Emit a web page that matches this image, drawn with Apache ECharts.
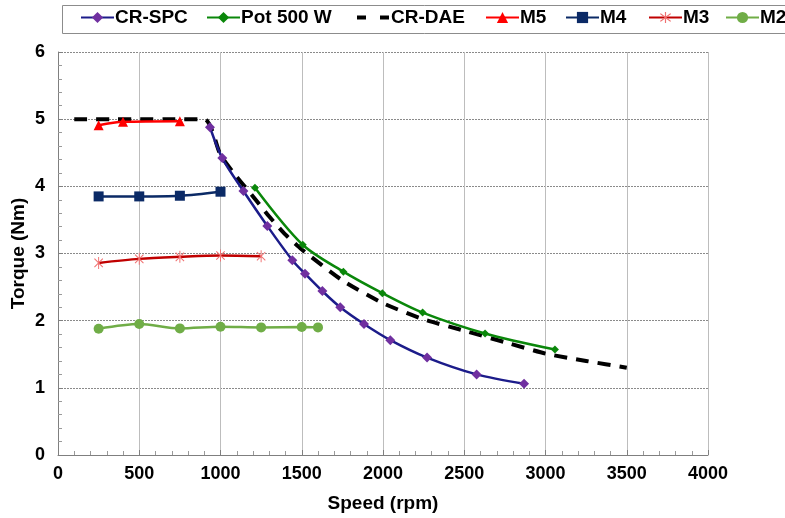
<!DOCTYPE html>
<html>
<head>
<meta charset="utf-8">
<script src="https://cdn.jsdelivr.net/npm/echarts@6/dist/echarts.min.js"></script>
<style>html,body{margin:0;padding:0;background:#fff}#c{width:785px;height:518px}</style>
</head>
<body>
<div id="c"></div>
<script>
var seriesNames = ['CR-SPC', 'Pot 500 W', 'CR-DAE', 'M5', 'M4', 'M3', 'M2'];
var xTicks = [0, 500, 1000, 1500, 2000, 2500, 3000, 3500, 4000];
var yTicks = [0, 1, 2, 3, 4, 5, 6];

var crSpcSpeed = [935, 1011, 1141, 1288, 1442, 1520, 1627, 1737, 1883, 2045, 2271, 2576, 2868];
var crSpcTorque = [4.88, 4.42, 3.93, 3.41, 2.90, 2.70, 2.44, 2.20, 1.95, 1.71, 1.45, 1.20, 1.06];

var potSpeed = [1212, 1506, 1756, 1996, 2244, 2628, 3058];
var potTorque = [3.98, 3.13, 2.73, 2.41, 2.12, 1.81, 1.57];

var crDaeSpeed = [100, 900, 1000, 1100, 1200, 1300, 1400, 1500, 1750, 2000, 2250, 2500, 2750, 3000, 3250, 3500];
var crDaeTorque = [5.0, 5.0, 4.47, 4.14, 3.85, 3.55, 3.28, 3.06, 2.60, 2.26, 2.02, 1.85, 1.68, 1.51, 1.40, 1.30];

var m5Speed = [250, 400, 750];
var m5Torque = [4.91, 4.96, 4.97];

var m4Speed = [250, 500, 750, 1000];
var m4Torque = [3.85, 3.85, 3.86, 3.92];

var m3Speed = [250, 500, 750, 1000, 1250];
var m3Torque = [2.86, 2.92, 2.95, 2.97, 2.96];

var m2Speed = [250, 500, 750, 1000, 1250, 1500, 1600];
var m2Torque = [1.88, 1.95, 1.885, 1.91, 1.90, 1.905, 1.90];

function pairs(xs, ys) { return xs.map(function (x, i) { return [x, ys[i]]; }); }

var FONT = '"Liberation Sans", Arial, sans-serif';
var asterisk = 'path://M-0.8,-10L0.8,-10L0.8,10L-0.8,10Z M-7.6,-6.4L-6.4,-7.6L7.6,6.4L6.4,7.6Z M6.4,-7.6L7.6,-6.4L-6.4,7.6L-7.6,6.4Z';

var legendLefts = [80, 206, 355, 485, 565, 648, 725];
var legends = seriesNames.map(function (n, i) {
  var l = {
    data: [n], left: legendLefts[i], top: 8, itemWidth: 33, itemHeight: 14, itemGap: 0,
    textStyle: { fontFamily: FONT, fontWeight: 'bold', fontSize: 19, color: '#000', padding: [0, 0, 0, -4] },
    padding: 0
  };
  if (n === 'CR-DAE') {
    l.itemStyle = { opacity: 0 };
    l.lineStyle = { type: [9, 14], width: 4, color: '#000' };
  }
  return l;
});

var chart = echarts.init(document.getElementById('c'), null, { renderer: 'canvas' });
chart.setOption({
  animation: false,
  backgroundColor: '#fff',
  graphic: [{
    type: 'rect', shape: { x: 62.5, y: 5.5, width: 730, height: 28 },
    style: { fill: '#fff', stroke: '#8c8c8c', lineWidth: 1 }, z: -1
  }],
  legend: legends,
  grid: { left: 58, right: 77, top: 52, bottom: 63, containLabel: false, outerBoundsMode: 'none' },
  xAxis: {
    type: 'value', min: 0, max: 4000, interval: 500,
    name: 'Speed (rpm)', nameLocation: 'middle', nameGap: 39, nameMoveOverlap: false,
    nameTextStyle: { fontFamily: FONT, fontWeight: 'bold', fontSize: 19, color: '#000' },
    axisLine: { show: true, lineStyle: { color: '#7f7f7f', width: 1 } },
    axisTick: { show: true, inside: true, length: 5, lineStyle: { color: '#7f7f7f' } },
    minorTick: { show: true, splitNumber: 5, length: 4, lineStyle: { color: '#9a9a9a' } },
    axisLabel: { fontFamily: FONT, fontWeight: 'bold', fontSize: 18, color: '#000', margin: 10,
      formatter: function (v) { return xTicks.indexOf(v) >= 0 ? String(v) : ''; } },
    splitLine: { show: true, lineStyle: { color: '#bdbdbd', width: 1 } }
  },
  yAxis: {
    type: 'value', min: 0, max: 6, interval: 1,
    name: 'Torque (Nm)', nameLocation: 'middle', nameGap: 30, nameMoveOverlap: false,
    nameTextStyle: { fontFamily: FONT, fontWeight: 'bold', fontSize: 19, color: '#000' },
    axisLine: { show: true, lineStyle: { color: '#7f7f7f', width: 1 } },
    axisTick: { show: true, inside: true, length: 5, lineStyle: { color: '#7f7f7f' } },
    minorTick: { show: true, splitNumber: 5, length: 4, lineStyle: { color: '#9a9a9a' } },
    axisLabel: { fontFamily: FONT, fontWeight: 'bold', fontSize: 18, color: '#000', margin: 13,
      formatter: function (v) { return yTicks.indexOf(v) >= 0 ? String(v) : ''; } },
    splitLine: { show: true, lineStyle: { color: '#8a8a8a', width: 1, type: [2, 1] } }
  },
  series: [
    { name: 'CR-SPC', type: 'line', data: pairs(crSpcSpeed, crSpcTorque), smooth: 0.3, z: 5,
      symbol: 'diamond', symbolSize: 10, lineStyle: { color: '#1c1c8a', width: 2.5 },
      itemStyle: { color: '#7030a0' } },
    { name: 'Pot 500 W', type: 'line', data: pairs(potSpeed, potTorque), smooth: 0.3, z: 4,
      symbol: 'diamond', symbolSize: 8, lineStyle: { color: '#0a870a', width: 2.5 },
      itemStyle: { color: '#0a870a' } },
    { name: 'CR-DAE', type: 'line', data: pairs(crDaeSpeed, crDaeTorque), smooth: 0.2, z: 3,
      symbol: 'none', showSymbol: false, lineStyle: { color: '#000', width: 4, type: [13, 9] },
      itemStyle: { color: '#000' } },
    { name: 'M5', type: 'line', data: pairs(m5Speed, m5Torque), smooth: 0.3, z: 6,
      symbol: 'triangle', symbolSize: 10, lineStyle: { color: '#ff0000', width: 2.5 },
      itemStyle: { color: '#ff0000' } },
    { name: 'M4', type: 'line', data: pairs(m4Speed, m4Torque), smooth: 0.3, z: 6,
      symbol: 'rect', symbolSize: 10, lineStyle: { color: '#0b2a66', width: 2.5 },
      itemStyle: { color: '#0b2a66' } },
    { name: 'M3', type: 'line', data: pairs(m3Speed, m3Torque), smooth: 0.3, z: 6,
      symbol: asterisk, symbolSize: 12, symbolKeepAspect: true, lineStyle: { color: '#c00000', width: 2.5 },
      itemStyle: { color: '#f07070' } },
    { name: 'M2', type: 'line', data: pairs(m2Speed, m2Torque), smooth: 0.3, z: 6,
      symbol: 'circle', symbolSize: 10, lineStyle: { color: '#70ad47', width: 2.5 },
      itemStyle: { color: '#70ad47' } }
  ]
});
</script>
</body>
</html>
